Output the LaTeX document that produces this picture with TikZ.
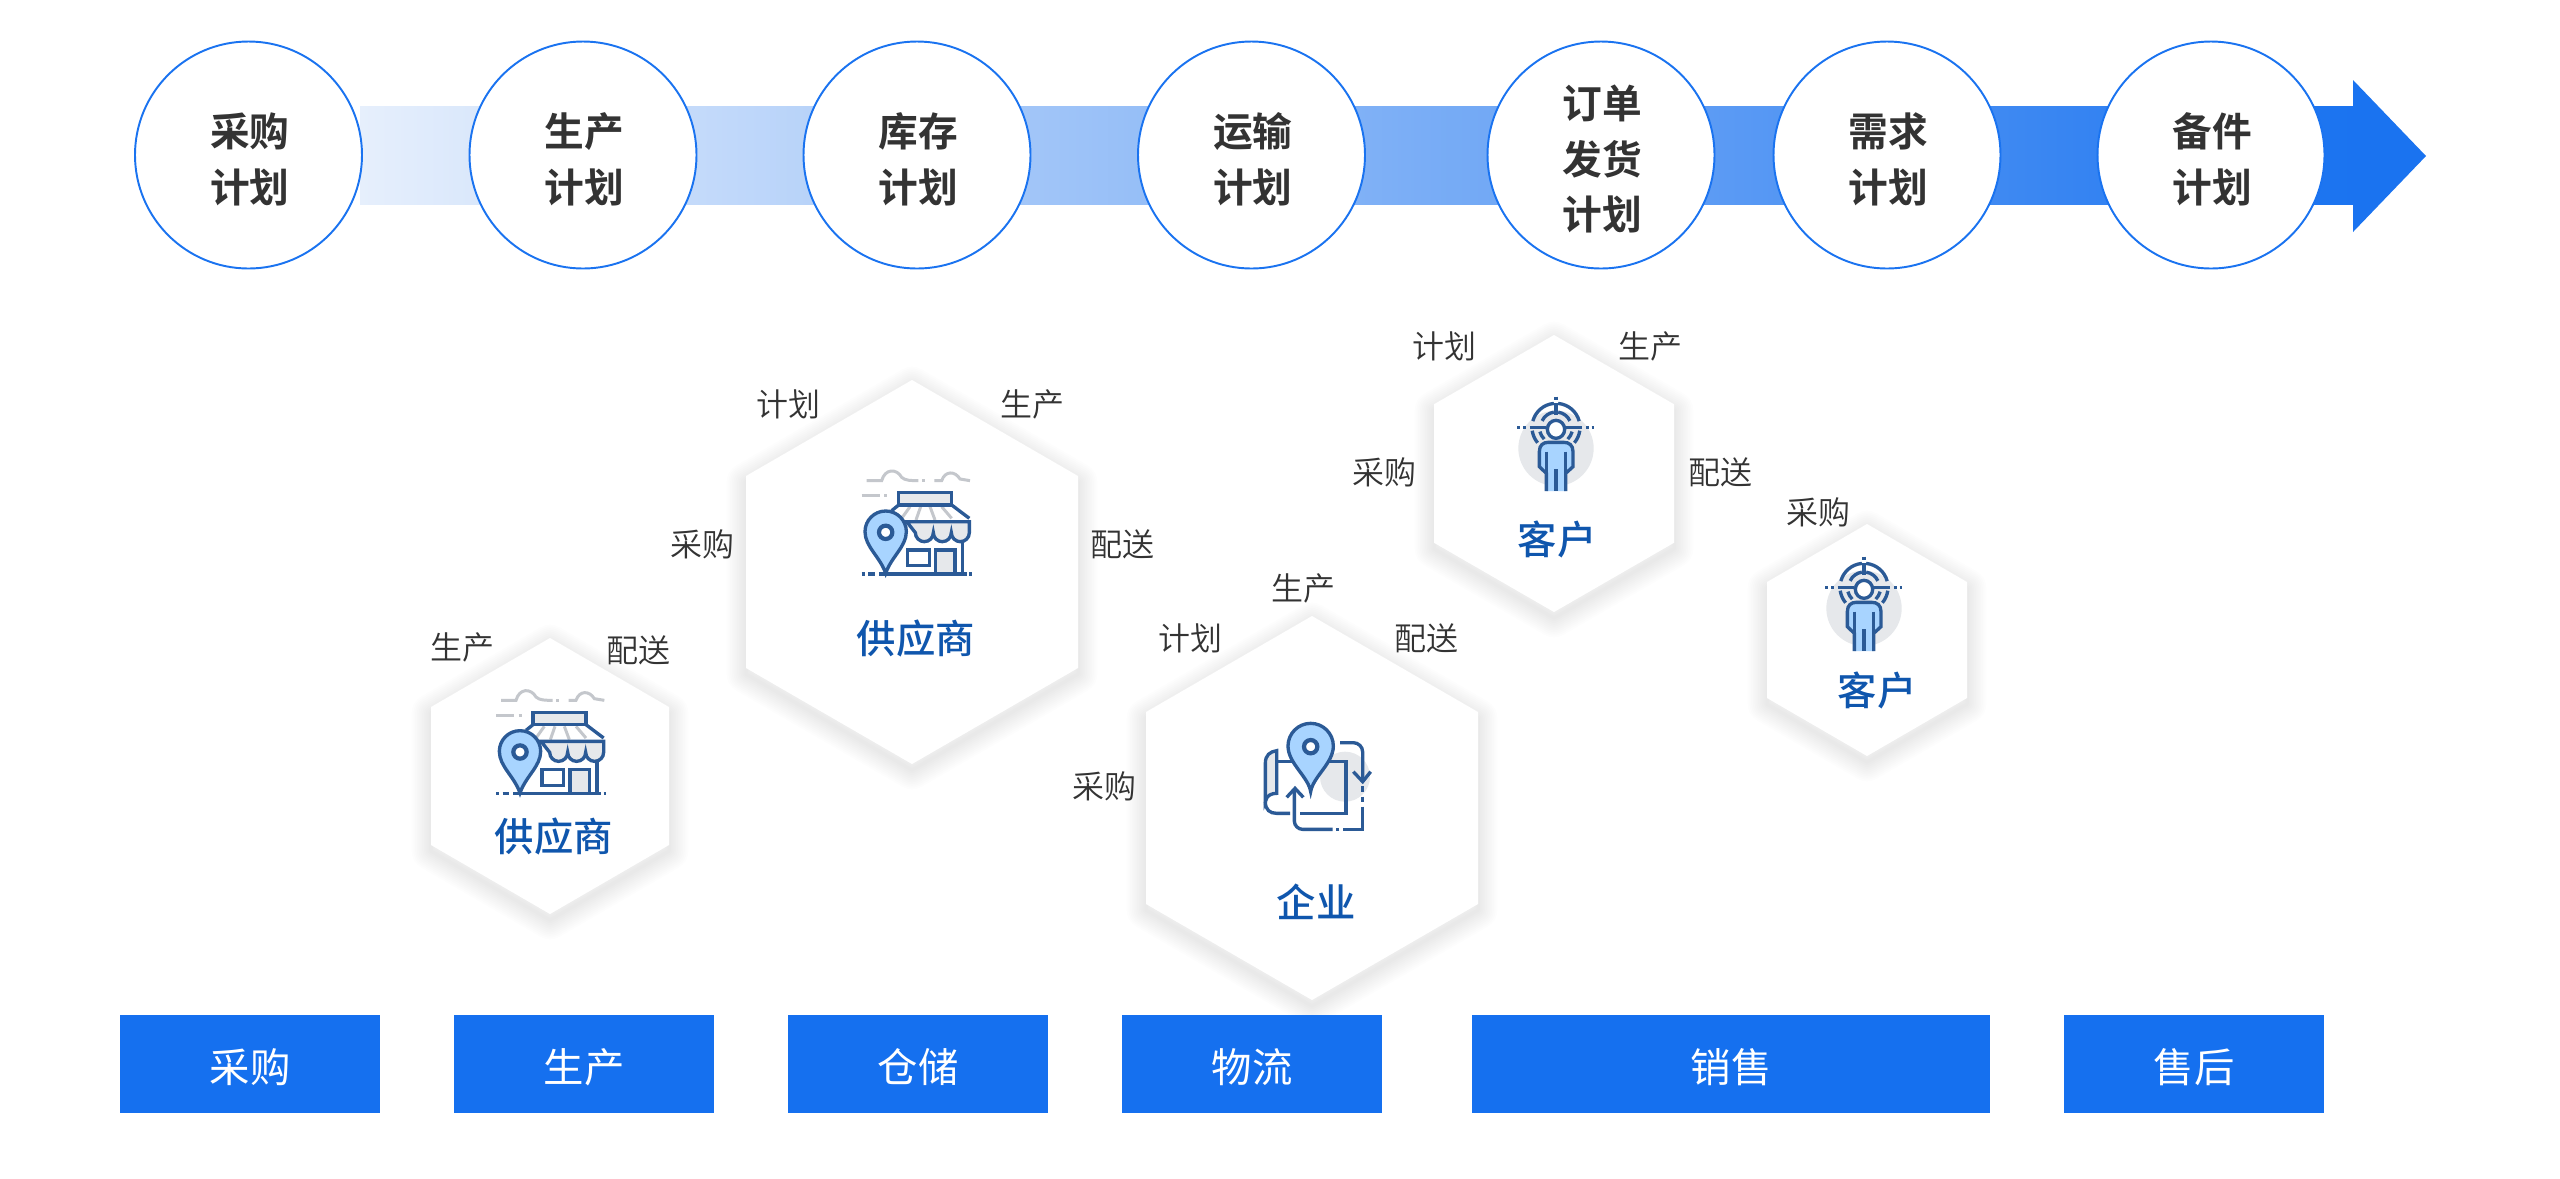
\documentclass[tikz,border=0pt]{standalone}
\usepackage{fontspec}
\usepackage{xcolor}
\newfontfamily\cjk[BoldFont={Noto Sans CJK SC Bold}]{Noto Sans CJK SC}
\newfontfamily\cjkmid{Noto Sans CJK SC Medium}
\newfontfamily\cjklight{Noto Sans CJK SC DemiLight}
\definecolor{arrowblue}{HTML}{1A73F0}
\definecolor{arrowpale}{HTML}{E6EFFC}
\definecolor{barblue}{HTML}{1570EF}
\definecolor{labelblue}{HTML}{0F56AD}
\definecolor{icondark}{HTML}{2B5A96}
\definecolor{iconlight}{HTML}{A8D4FF}
\definecolor{icongray}{HTML}{E6E8EB}
\definecolor{cloudgray}{HTML}{C4C7CC}
\definecolor{textdark}{HTML}{333333}
\newcommand{\plantext}[1]{\hspace*{1.6pt}\raisebox{-4.7pt}[\height][\depth]{\begin{tabular}{@{}c@{}}#1\end{tabular}}}
\newcommand{\bartext}[1]{\raisebox{-1.9pt}[\height][\depth]{#1}}
\tikzset{
  planbox/.style={circle,draw=arrowblue,line width=1.1pt,fill=white,minimum size=227*0.02cm,inner sep=0pt,
    align=center,text=textdark,font=\cjk\bfseries\fontsize{22.6}{31.5}\selectfont},
  barbox/.style={rectangle,fill=barblue,minimum height=98*0.02cm,inner sep=0pt,text=white,
    font=\cjk\fontsize{23}{26}\selectfont},
  hexlabel/.style={inner sep=0pt,text=labelblue,font=\cjkmid\fontsize{22.4}{26}\selectfont},
  sidelabel/.style={inner sep=0pt,text=textdark,font=\cjklight\fontsize{18.2}{20}\selectfont},
  iconline/.style={draw=icondark,line width=1.9pt},
  shopicon/.pic={
    \begin{scope}[x=0.00667cm,y=-0.00667cm,shift={(-650,-550)}]
      \draw[cloudgray,line width=1.7pt] (500,422)--(545,422) .. controls (555,385) and (590,385) .. (605,412) .. controls (615,422) and (635,422) .. (655,422);
      \draw[cloudgray,line width=1.7pt] (666,422)--(675,422);
      \draw[cloudgray,line width=1.7pt] (703,422)--(725,422) .. controls (735,392) and (765,392) .. (780,417)--(810,422);
      \draw[cloudgray,line width=1.7pt] (485,467)--(540,467) (553,467)--(562,467);
      \draw[cloudgray,line width=1.7pt] (630,500)--(605,535) (662,500)--(648,540) (690,500)--(705,540) (725,500)--(755,535);
      \draw[iconline] (575,512)--(596,495) (755,495)--(808,535);
      \draw[iconline,fill=icongray] (596,458) rectangle (755,495);
      \draw[iconline,fill=icongray] (808,545)--(808,578) arc[start angle=0,end angle=180,radius=27] arc[start angle=0,end angle=180,radius=27] arc[start angle=0,end angle=180,radius=27]--(620,545)--cycle;
      \draw[iconline] (788,600)--(788,702);
      \draw[iconline] (623,630) rectangle (688,677);
      \draw[iconline,fill=icongray] (707,702)--(707,630)--(765,630)--(765,702);
      \draw[iconline] (537,702)--(800,702) (505,702)--(525,702) (485,702)--(495,702) (808,702)--(816,702);
      \draw[iconline,fill=iconlight] (557,700) .. controls (540,650) and (495,620) .. (495,575) arc[start angle=180,end angle=360,radius=62] .. controls (619,620) and (574,650) .. (557,700)--cycle;
      \draw[icondark,line width=2.4pt,fill=white] (557,577) circle[radius=20];
    \end{scope}
  },
  personicon/.pic={
    \begin{scope}[x=0.00667cm,y=-0.00667cm,shift={(-394,-322)}]
      \fill[icongray] (394,385) circle[radius=113];
      \foreach \r/\a/\b in {72/195/265,72/275/345,46/205/262,46/278/335,72/8/40,72/140/172,50/15/45,50/135/165}
        \draw[iconline] ([shift={(\a:\r)}]394,322) arc[start angle=\a,end angle=\b,radius=\r];
      \draw[iconline] (394,250)--(394,285) (394,230)--(394,240);
      \draw[iconline] (315,322)--(363,322) (425,322)--(472,322) (277,322)--(285,322) (296,322)--(304,322) (484,322)--(492,322) (501,322)--(508,322);
      \draw[iconline,fill=white] (394,328) ellipse[x radius=26,y radius=27];
      \draw[iconline,fill=iconlight] (365,513)--(365,460)--(344,440)--(344,395) .. controls (344,375) and (356,367) .. (371,367)--(417,367) .. controls (433,367) and (445,375) .. (445,395)--(445,440)--(423,460)--(423,513);
      \draw[iconline] (365,395)--(365,513) (423,395)--(423,513) (394,448)--(394,513);
    \end{scope}
  },
  flowicon/.pic={
    \begin{scope}[x=0.00667cm,y=-0.00667cm,shift={(-575,-470)}]
      \fill[icongray] (675,470) circle[radius=75];
      \draw[iconline,fill=icongray] (470,392) .. controls (450,395) and (436,405) .. (436,430)--(436,545) .. controls (440,525) and (455,520) .. (470,520)--cycle;
      \draw[iconline] (470,425)--(678,425)--(678,580)--(540,580);
      \draw[iconline] (436,545) .. controls (436,570) and (450,580) .. (470,580)--(510,580);
      \draw[iconline,fill=iconlight] (572,515) .. controls (565,470) and (504,430) .. (504,378) arc[start angle=180,end angle=360,radius=68] .. controls (640,430) and (579,470) .. (572,515)--cycle;
      \draw[icondark,line width=2.4pt,fill=white] (572,380) circle[radius=20];
      \draw[iconline] (660,368)--(700,368) arc[start angle=270,end angle=360,radius=28]--(728,485);
      \draw[iconline] (700,455)--(728,485)--(752,455);
      \draw[iconline] (728,498)--(728,515) (728,530)--(728,545) (728,560)--(728,628)--(670,628) (658,628)--(648,628);
      \draw[iconline] (638,628)--(548,628) arc[start angle=90,end angle=180,radius=25]--(523,508);
      \draw[iconline] (500,532)--(525,505)--(550,532);
    \end{scope}
  }
}
\newcommand{\hexcell}[5]{
  \coordinate (#1) at (#2,#3);
  \foreach \lw in {2,4,6,8,10,12,14,16,18,20,22}
    \draw[black,opacity=0.009,line width=\lw pt,line join=round,shift={(0,6)}]
      ({#2},{#3-#5})--({#2+#4},{#3-#5/2})--({#2+#4},{#3+#5/2})--({#2},{#3+#5})--({#2-#4},{#3+#5/2})--({#2-#4},{#3-#5/2})--cycle;
  \fill[white] ({#2},{#3-#5})--({#2+#4},{#3-#5/2})--({#2+#4},{#3+#5/2})--({#2},{#3+#5})--({#2-#4},{#3+#5/2})--({#2-#4},{#3-#5/2})--cycle;
}

\begin{document}
\begin{tikzpicture}[x=0.02cm,y=-0.02cm]
  \useasboundingbox (0,0) rectangle (2560,1178);

  \shade[left color=arrowpale,right color=arrowblue] (360,106) rectangle (2354,204);
  \fill[arrowblue] (2353,80)--(2426,156)--(2353,232)--cycle;

  \node[planbox] (caigouplan) at (248.5,155) {\plantext{采购\\计划}};
  \node[planbox] (shengchanplan) at (583,155) {\plantext{生产\\计划}};
  \node[planbox] (kucunplan) at (917,155) {\plantext{库存\\计划}};
  \node[planbox] (yunshuplan) at (1251.5,155) {\plantext{运输\\计划}};
  \node[planbox] (fahuoplan) at (1601,155) {\plantext{订单\\发货\\计划}};
  \node[planbox] (xuqiuplan) at (1887,155) {\plantext{需求\\计划}};
  \node[planbox] (beijianplan) at (2211,155) {\plantext{备件\\计划}};

  \hexcell{gongA}{912}{572}{166}{192}
  \hexcell{gongB}{550}{776}{119}{138}
  \hexcell{qiye}{1312}{808}{166}{192}
  \hexcell{keA}{1554}{473.5}{120}{138.5}
  \hexcell{keB}{1867}{640}{100}{116}

  \pic (shopA) at (916.67,523.33) {shopicon};
  \pic (shopB) at (551,743) {shopicon};
  \pic (flowC) at (1311.67,776.67) {flowicon};
  \pic (personA) at (1556,427.33) {personicon};
  \pic (personB) at (1864,587.33) {personicon};

  \node[hexlabel] (gongAtext) at (916,638) {供应商};
  \node[hexlabel] (gongBtext) at (554,836) {供应商};
  \node[hexlabel] (qiyetext) at (1316,902) {企业};
  \node[hexlabel] (keAtext) at (1557,539) {客户};
  \node[hexlabel] (keBtext) at (1877,690) {客户};

  \node[sidelabel] (gongAplan) at (788,404) {计划};
  \node[sidelabel] (gongAmake) at (1032,404) {生产};
  \node[sidelabel] (gongAbuy) at (702,544) {采购};
  \node[sidelabel] (gongAsend) at (1122,544) {配送};
  \node[sidelabel] (gongBmake) at (462,647) {生产};
  \node[sidelabel] (gongBsend) at (638,650) {配送};
  \node[sidelabel] (qiyemake) at (1303,588) {生产};
  \node[sidelabel] (qiyeplan) at (1190,638) {计划};
  \node[sidelabel] (qiyesend) at (1426,638) {配送};
  \node[sidelabel] (qiyebuy) at (1104,786) {采购};
  \node[sidelabel] (keAplan) at (1444,346) {计划};
  \node[sidelabel] (keAmake) at (1650,346) {生产};
  \node[sidelabel] (keAbuy) at (1384,472) {采购};
  \node[sidelabel] (keAsend) at (1720,472) {配送};
  \node[sidelabel] (keBbuy) at (1818,512) {采购};

  \node[barbox,minimum width=260*0.02cm] (caigoubar) at (250,1063.5) {\bartext{采购}};
  \node[barbox,minimum width=260*0.02cm] (shengchanbar) at (584,1063.5) {\bartext{生产}};
  \node[barbox,minimum width=260*0.02cm] (cangchubar) at (918,1063.5) {\bartext{仓储}};
  \node[barbox,minimum width=260*0.02cm] (wuliubar) at (1252,1063.5) {\bartext{物流}};
  \node[barbox,minimum width=518*0.02cm] (xiaoshoubar) at (1731,1063.5) {\bartext{销售}};
  \node[barbox,minimum width=260*0.02cm] (shouhoubar) at (2194,1063.5) {\bartext{售后}};
\end{tikzpicture}
\end{document}
